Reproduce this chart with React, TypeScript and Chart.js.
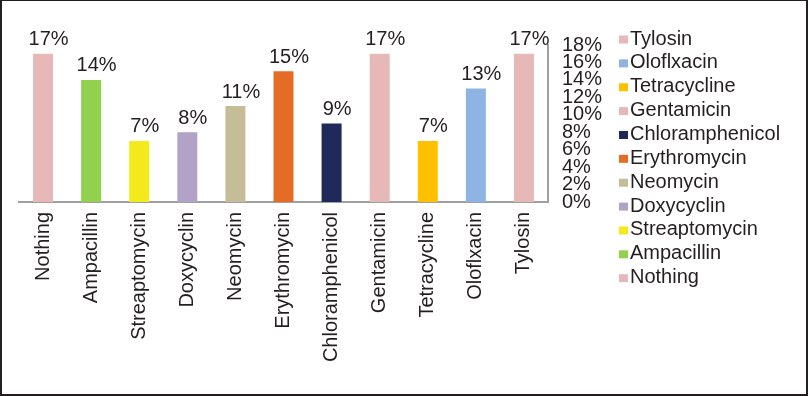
import React, { useEffect, useRef } from 'react';
import { Chart, registerables } from 'chart.js';

Chart.register(...registerables);

const categories = [
  'Nothing', 'Ampacillin', 'Streaptomycin', 'Doxycyclin', 'Neomycin', 'Erythromycin',
  'Chloramphenicol', 'Gentamicin', 'Tetracycline', 'Oloflxacin', 'Tylosin',
];
const values = [17, 14, 7, 8, 11, 15, 9, 17, 7, 13, 17];
const barColors = [
  '#E6B9B8', '#92D050', '#F3EA1B', '#B3A2C7', '#C4BD97', '#E46C25',
  '#1F2A5B', '#E6B9B8', '#FFC000', '#8EB4E3', '#E6B9B8',
];
const yMin = 0;
const yMax = 18;
const yStep = 2;

const FONT = '"Liberation Sans", Arial, sans-serif';
const TEXT = '#231F20';
const AXIS = '#A0A0A0';

const valueLabelPlugin = {
  id: 'valueLabels',
  afterDatasetsDraw(chart: any) {
    const ctx = chart.ctx;
    const meta = chart.getDatasetMeta(0);
    ctx.save();
    ctx.font = `20px ${FONT}`;
    ctx.fillStyle = TEXT;
    ctx.textAlign = 'center';
    ctx.textBaseline = 'alphabetic';
    meta.data.forEach((el: any, i: number) => {
      const v = chart.data.datasets[0].data[i];
      ctx.fillText(`${v}%`, el.x + 5.5, el.y - 8.5);
    });
    ctx.restore();
  },
};

const sideLegendPlugin = {
  id: 'sideLegend',
  afterDraw(chart: any) {
    const ctx = chart.ctx;
    const labels = chart.data.labels as string[];
    const colors = chart.data.datasets[0].backgroundColor as string[];
    const order = labels.map((_, i) => i).reverse();
    const firstBaseline = 44.5;
    const rowStep = 23.87;
    const boxX = 619;
    const textX = 630;
    ctx.save();
    ctx.font = `20px ${FONT}`;
    ctx.textAlign = 'left';
    ctx.textBaseline = 'alphabetic';
    order.forEach((idx, row) => {
      const base = firstBaseline + row * rowStep;
      ctx.fillStyle = colors[idx];
      ctx.fillRect(boxX, base - 9, 9, 8);
      ctx.fillStyle = TEXT;
      ctx.fillText(labels[idx], textX, base);
    });
    ctx.restore();
  },
};

export default function App() {
  const canvasRef = useRef<HTMLCanvasElement | null>(null);

  useEffect(() => {
    if (!canvasRef.current) return;
    const chart = new Chart(canvasRef.current, {
      type: 'bar',
      data: {
        labels: categories,
        datasets: [
          {
            data: values,
            backgroundColor: barColors,
            borderWidth: 0,
            barPercentage: 0.416,
            categoryPercentage: 1,
          },
        ],
      },
      options: {
        animation: false,
        responsive: true,
        maintainAspectRatio: false,
        devicePixelRatio: 1,
        layout: { padding: { left: 19, top: 45, right: 200, bottom: 0 } },
        plugins: {
          legend: { display: false },
          tooltip: { enabled: false },
        },
        scales: {
          x: {
            grid: { display: false, drawTicks: false },
            border: { display: true, color: AXIS, width: 2 },
            ticks: {
              autoSkip: false,
              minRotation: 90,
              maxRotation: 90,
              padding: 10,
              color: TEXT,
              font: { family: FONT, size: 20 },
            },
            afterFit: (s: any) => {
              s.height = 194;
            },
          },
          y: {
            position: 'right',
            min: yMin,
            max: yMax,
            grid: { display: false, drawTicks: false },
            border: { display: true, color: AXIS, width: 2 },
            ticks: {
              stepSize: yStep,
              autoSkip: false,
              padding: 14,
              color: TEXT,
              font: { family: FONT, size: 20 },
              callback: (v: any) => `${v}%`,
            },
            afterFit: (s: any) => {
              s.width = 60;
            },
          },
        },
      },
      plugins: [valueLabelPlugin, sideLegendPlugin],
    });
    return () => chart.destroy();
  }, []);

  return (
    <div
      style={{
        position: 'fixed',
        left: 0,
        top: 0,
        width: 808,
        height: 396,
        background: '#fff',
      }}
    >
      <canvas ref={canvasRef} />
      <div
        style={{
          position: 'absolute',
          left: 0,
          top: 0,
          width: 808,
          height: 396,
          boxSizing: 'border-box',
          borderStyle: 'solid',
          borderColor: TEXT,
          borderWidth: '1px 2px 2px 2px',
          pointerEvents: 'none',
        }}
      />
    </div>
  );
}
